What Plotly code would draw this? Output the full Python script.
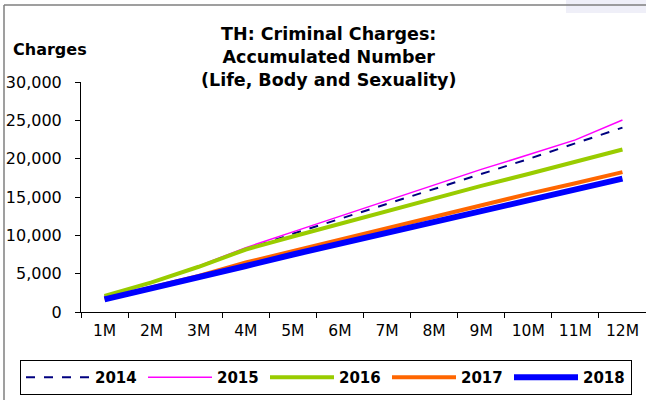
import plotly.graph_objects as go

months = ["1M", "2M", "3M", "4M", "5M", "6M", "7M", "8M", "9M", "10M", "11M", "12M"]
y2014 = [2000, 3850, 5950, 8150, 10200, 12150, 14050, 15950, 17900, 19950, 22000, 24050]
y2015 = [2050, 3900, 6000, 8400, 10450, 12500, 14550, 16600, 18600, 20500, 22450, 25050]
y2016 = [2100, 3870, 5900, 8150, 9850, 11500, 13150, 14850, 16450, 18000, 19600, 21200]
y2017 = [1700, 3200, 4700, 6450, 7950, 9450, 11000, 12500, 13950, 15400, 16800, 18250]
y2018 = [1650, 3050, 4500, 6000, 7500, 8900, 10300, 11700, 13100, 14500, 15950, 17400]

FONT = "DejaVu Sans, Liberation Sans, Arial, sans-serif"

fig = go.Figure()
fig.add_trace(go.Scatter(x=months, y=y2014, name="2014", mode="lines",
                         line=dict(color="#000080", width=2, dash="dash")))
fig.add_trace(go.Scatter(x=months, y=y2015, name="2015", mode="lines",
                         line=dict(color="#FF00FF", width=1.5)))
fig.add_trace(go.Scatter(x=months, y=y2016, name="2016", mode="lines",
                         line=dict(color="#99CC00", width=4)))
fig.add_trace(go.Scatter(x=months, y=y2017, name="2017", mode="lines",
                         line=dict(color="#FF6600", width=4)))
fig.add_trace(go.Scatter(x=months, y=y2018, name="2018", mode="lines",
                         line=dict(color="#0000FF", width=6)))

W, H = 646, 400
L, R, T, B = 81, 0, 82, 88
pw, ph = W - L - R, H - T - B

def px(x):
    return (x - L) / pw

def py(y):
    return (H - B - y) / ph

fig.update_layout(
    template="none",
    width=W, height=H,
    margin=dict(l=L, r=R, t=T, b=B, autoexpand=False),
    paper_bgcolor="white", plot_bgcolor="white",
    font=dict(family=FONT, size=15, color="black"),
    showlegend=True,
    legend=dict(orientation="h", x=px(20), xanchor="left", y=py(360), yanchor="top",
                bordercolor="black", borderwidth=1, bgcolor="white",
                font=dict(family=FONT, size=15, color="black", weight="bold"),
                itemwidth=64, entrywidth=43, tracegroupgap=0),
    xaxis=dict(type="category", showline=True, linecolor="black", linewidth=1,
               ticks="outside", ticklen=5, tickcolor="black", tickson="boundaries",
               showgrid=False, zeroline=False, range=[-0.5, 11.5], automargin=False,
               ticklabelstandoff=4, tickfont=dict(size=15.5)),
    yaxis=dict(range=[0, 30000], dtick=5000, tickformat=",", showline=True,
               linecolor="black", linewidth=1, ticks="outside", ticklen=5,
               tickcolor="black", showgrid=False, zeroline=False, automargin=False,
               ticklabelstandoff=10, tickfont=dict(size=16)),
    annotations=[
        dict(text="TH: Criminal Charges:<br>Accumulated Number<br>(Life, Body and Sexuality)",
             xref="paper", yref="paper", x=px(328), y=py(22), xanchor="center", yanchor="top",
             showarrow=False, font=dict(family=FONT, size=17.5, color="black", weight="bold")),
        dict(text="Charges", xref="paper", yref="paper", x=px(50), y=py(50),
             xanchor="center", yanchor="middle", showarrow=False,
             font=dict(family=FONT, size=16, color="black", weight="bold")),
    ],
    shapes=[
        dict(type="rect", xref="paper", yref="paper", x0=px(566), x1=px(646), y0=py(13), y1=py(0),
             fillcolor="#EFEFF8", line=dict(width=0), layer="below"),
        dict(type="line", xref="paper", yref="paper", x0=px(4), x1=px(4), y0=py(400), y1=py(5),
             line=dict(color="#7f7f7f", width=1.5)),
        dict(type="line", xref="paper", yref="paper", x0=px(4), x1=px(646), y0=py(5), y1=py(5),
             line=dict(color="#7f7f7f", width=1.5)),
    ],
)

fig.write_html("out.html", config={"displayModeBar": False},
               post_script="document.body.style.margin='0';document.body.style.overflow='hidden';")
